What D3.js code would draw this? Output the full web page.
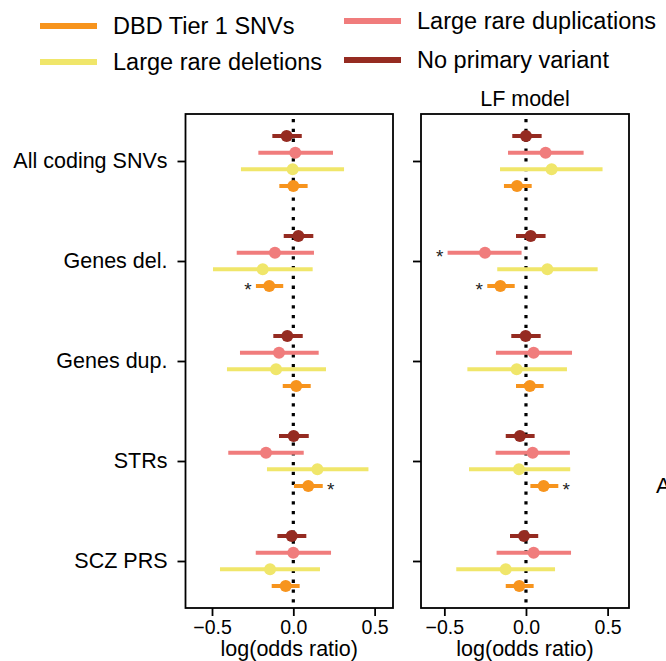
<!DOCTYPE html>
<html>
<head>
<meta charset="utf-8">
<script src="https://cdn.jsdelivr.net/npm/d3@7"></script>
<style>
  body { margin: 0; background: #fff; }
  svg { display: block; font-family: "Liberation Sans", Arial, sans-serif; }
</style>
</head>
<body>
<div id="main_output"></div>
<script>
// categories (top to bottom) and series
var categories = ["All coding SNVs", "Genes del.", "Genes dup.", "STRs", "SCZ PRS"];
var seriesNames = ["DBD Tier 1 SNVs", "Large rare deletions", "Large rare duplications", "No primary variant"];
var seriesColors = ["#f7941d", "#f0e66a", "#f07c7c", "#952b21"];
var xTicks = [-0.5, 0, 0.5];

// left panel: series order dbd, del, dup, none ; one value per category
var baseMean = [
  [0.000, -0.148, 0.018, 0.092, -0.047],
  [-0.004, -0.188, -0.106, 0.148, -0.143],
  [0.012, -0.113, -0.088, -0.168, 0.000],
  [-0.041, 0.031, -0.037, 0.002, -0.010]
];
var baseLow = [
  [-0.086, -0.230, -0.065, 0.004, -0.133],
  [-0.322, -0.494, -0.408, -0.162, -0.451],
  [-0.215, -0.348, -0.328, -0.400, -0.231],
  [-0.129, -0.059, -0.123, -0.088, -0.098]
];
var baseHigh = [
  [0.088, -0.062, 0.107, 0.181, 0.039],
  [0.312, 0.119, 0.201, 0.462, 0.164],
  [0.244, 0.127, 0.156, 0.064, 0.232],
  [0.052, 0.123, 0.058, 0.095, 0.080]
];
// [series, category] pairs flagged with a star
var baseStars = [[0, 1], [0, 3]];

// right panel: LF model
var lfMean = [
  [-0.055, -0.157, 0.024, 0.108, -0.041],
  [0.157, 0.131, -0.057, -0.043, -0.124],
  [0.120, -0.251, 0.047, 0.041, 0.047],
  [0.000, 0.029, -0.002, -0.037, -0.012]
];
var lfLow = [
  [-0.135, -0.237, -0.061, 0.027, -0.124],
  [-0.159, -0.176, -0.359, -0.349, -0.427],
  [-0.110, -0.480, -0.184, -0.186, -0.180],
  [-0.084, -0.061, -0.090, -0.124, -0.098]
];
var lfHigh = [
  [0.035, -0.069, 0.108, 0.198, 0.047],
  [0.469, 0.439, 0.251, 0.271, 0.178],
  [0.353, -0.027, 0.282, 0.269, 0.276],
  [0.096, 0.120, 0.090, 0.053, 0.075]
];
var lfStars = [[2, 1], [0, 1], [0, 3]];

var width = 666, height = 661;
var plotTop = 114, plotBottom = 608;
// row offset within a category, per series (dbd bottom, none top)
var rowOffset = [0.25, 0.0833, -0.0833, -0.25];

var svg = d3.select("#main_output").append("svg")
  .attr("width", width)
  .attr("height", height);

svg.append("rect").attr("width", width).attr("height", height).attr("fill", "#fff");

var yScale = d3.scaleLinear()
  .domain([-0.47, 4.47])
  .range([plotTop, plotBottom]);

function drawPanel(left, right, domain, mean, low, high, stars, showLabels, title) {
  var xScale = d3.scaleLinear().domain(domain).range([left, right]);
  var g = svg.append("g");

  // zero reference line
  g.append("line")
    .attr("x1", xScale(0)).attr("x2", xScale(0))
    .attr("y1", plotTop + 5).attr("y2", plotBottom)
    .attr("stroke", "#000")
    .attr("stroke-width", 3.2)
    .attr("stroke-dasharray", "3.3,6.5");

  for (var s = 3; s >= 0; s--) {
    var rows = categories.map(function(c, i) {
      return {cat: i, m: mean[s][i], lo: low[s][i], hi: high[s][i]};
    });
    g.selectAll(".bar" + s)
      .data(rows)
      .enter().append("line")
      .attr("x1", function(d) { return xScale(d.lo); })
      .attr("x2", function(d) { return xScale(d.hi); })
      .attr("y1", function(d) { return yScale(d.cat + rowOffset[s]); })
      .attr("y2", function(d) { return yScale(d.cat + rowOffset[s]); })
      .attr("stroke", seriesColors[s])
      .attr("stroke-width", 4);
    g.selectAll(".dot" + s)
      .data(rows)
      .enter().append("circle")
      .attr("cx", function(d) { return xScale(d.m); })
      .attr("cy", function(d) { return yScale(d.cat + rowOffset[s]); })
      .attr("r", 6)
      .attr("fill", seriesColors[s]);
  }

  // significance stars, placed past the end of the interval away from zero
  g.selectAll(".star")
    .data(stars)
    .enter().append("text")
    .attr("x", function(d) {
      var m = mean[d[0]][d[1]];
      return m < 0 ? xScale(low[d[0]][d[1]]) - 8 : xScale(high[d[0]][d[1]]) + 8;
    })
    .attr("y", function(d) { return yScale(d[1] + rowOffset[d[0]]) + 10; })
    .attr("text-anchor", "middle")
    .attr("font-size", "19px")
    .attr("fill", "#222")
    .text("*");

  // frame
  g.append("rect")
    .attr("x", left).attr("y", plotTop)
    .attr("width", right - left).attr("height", plotBottom - plotTop)
    .attr("fill", "none")
    .attr("stroke", "#000")
    .attr("stroke-width", 1.8);

  var xAxis = d3.axisBottom(xScale)
    .tickValues(xTicks)
    .tickFormat(d3.format(".1f"))
    .tickSize(8)
    .tickPadding(4);
  var gx = g.append("g")
    .attr("transform", "translate(0," + plotBottom + ")")
    .call(xAxis);
  gx.select(".domain").remove();
  gx.selectAll("line").attr("stroke-width", 1.8);
  gx.selectAll("text").attr("font-size", "19.5px").attr("font-family", "Liberation Sans, Arial, sans-serif").attr("fill", "#000");

  var yAxis = d3.axisLeft(yScale)
    .tickValues(d3.range(categories.length))
    .tickFormat(function(i) { return showLabels ? categories[i] : ""; })
    .tickSize(8)
    .tickPadding(10);
  var gy = g.append("g")
    .attr("transform", "translate(" + left + ",0)")
    .call(yAxis);
  gy.select(".domain").remove();
  gy.selectAll("line").attr("stroke-width", 1.8);
  gy.selectAll("text").attr("font-size", "21.5px").attr("font-family", "Liberation Sans, Arial, sans-serif").attr("fill", "#000");

  // x label
  g.append("text")
    .attr("x", (left + right) / 2)
    .attr("y", 656)
    .attr("text-anchor", "middle")
    .attr("font-size", "21.5px")
    .text("log(odds ratio)");

  if (title) {
    g.append("text")
      .attr("x", (left + right) / 2)
      .attr("y", 106)
      .attr("text-anchor", "middle")
      .attr("font-size", "21.5px")
      .text(title);
  }
}

drawPanel(185.5, 393, [-0.663, 0.613], baseMean, baseLow, baseHigh, baseStars, true, null);
drawPanel(421, 629, [-0.643, 0.631], lfMean, lfLow, lfHigh, lfStars, false, "LF model");

// legend: two columns
var legendItems = [
  {s: 0, x: 40, y: 26},
  {s: 1, x: 40, y: 62},
  {s: 2, x: 344, y: 21},
  {s: 3, x: 344, y: 60}
];
var legend = svg.selectAll(".legend")
  .data(legendItems)
  .enter().append("g")
  .attr("transform", function(d) { return "translate(" + d.x + "," + d.y + ")"; });
legend.append("line")
  .attr("x1", 0).attr("x2", 57)
  .attr("stroke", function(d) { return seriesColors[d.s]; })
  .attr("stroke-width", 6);
legend.append("text")
  .attr("x", 73)
  .attr("dy", "0.35em")
  .attr("font-size", "23.5px")
  .text(function(d) { return seriesNames[d.s]; });

// partial label of neighbouring panel, cut by the edge
svg.append("text")
  .attr("x", 656)
  .attr("y", 493)
  .attr("font-size", "22px")
  .text("A");
</script>
</body>
</html>
